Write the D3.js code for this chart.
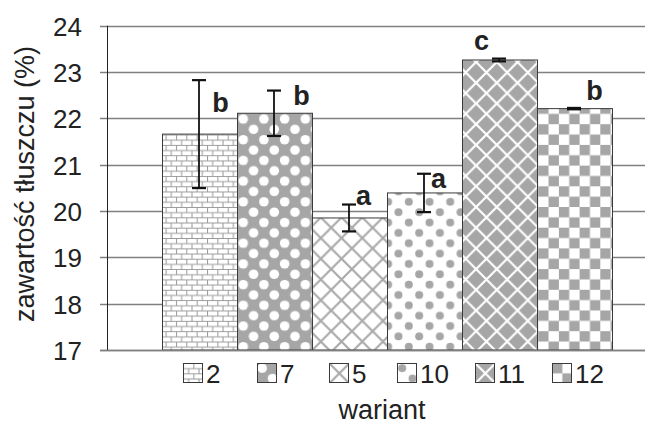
<!DOCTYPE html>
<html>
<head>
<meta charset="utf-8">
<script src="https://cdn.jsdelivr.net/npm/d3@7"></script>
<style>
  html, body { margin: 0; padding: 0; background: #fff; }
  svg { display: block; font-family: Arial, "Liberation Sans", sans-serif; }
</style>
</head>
<body>
<svg id="chart" width="645" height="426"></svg>
<script>
// ---- data ----
const variants = ["2", "7", "5", "10", "11", "12"];
const means    = [21.66, 22.11, 19.85, 20.39, 23.26, 22.21];
const sds      = [1.165, 0.49, 0.29, 0.414, 0.03, 0.015];
const letters  = ["b", "b", "a", "a", "c", "b"];
const yTicks   = [17, 18, 19, 20, 21, 22, 23, 24];
const yTitle   = "zawartość tłuszczu (%)";
const xTitle   = "wariant";

// ---- layout ----
const W = 645, H = 426;
const svg = d3.select("#chart");
const y = d3.scaleLinear().domain([17, 24]).range([350, 25.7]);
const x = d3.scaleBand().domain(variants).range([162, 612]).padding(0);
const GREY = "#a6a6a6", LINE = "#aaaaaa";
const T = 20.7, h = T / 2;

const defs = svg.append("defs");
function pat(id, w, hgt) {
  return defs.append("pattern").attr("id", id).attr("patternUnits", "userSpaceOnUse")
    .attr("width", w).attr("height", hgt);
}
// bricks
{
  const p = pat("p2", h, h);
  p.append("rect").attr("width", h).attr("height", h).attr("fill", "#fff");
  p.append("path").attr("d", `M0,0.5H${h} M0,${h/2+0.5}H${h} M0.5,0V${h/2} M${h/2+0.5},${h/2}V${h}`)
    .attr("stroke", "#999").attr("stroke-width", 1).attr("fill", "none");
}
// white dots on grey
{
  const p = pat("p7", T, T);
  p.append("rect").attr("width", T).attr("height", T).attr("fill", GREY);
  [[h/2, h/2], [h/2 + h, h/2 + h]].forEach(([cx, cy]) =>
    p.append("circle").attr("cx", cx).attr("cy", cy).attr("r", 4.8).attr("fill", "#fff"));
}
function crossPath() {
  let d = "";
  [-1, 0, 1].forEach(k => { d += `M-2,${-2 + k*T} L${T+2},${T+2 + k*T} `; });
  [0, 1, 2].forEach(k => { d += `M-2,${k*T + 2} L${T+2},${k*T - T - 2} `; });
  return d;
}
// grey cross on white
{
  const p = pat("p5", T, T);
  p.append("rect").attr("width", T).attr("height", T).attr("fill", "#fff");
  p.append("path").attr("d", crossPath()).attr("stroke", LINE).attr("stroke-width", 2.2).attr("fill", "none");
}
// grey dots on white
{
  const p = pat("p10", T, T);
  p.append("rect").attr("width", T).attr("height", T).attr("fill", "#fff");
  [[h/2, h/2], [h/2 + h, h/2 + h]].forEach(([cx, cy]) =>
    p.append("circle").attr("cx", cx).attr("cy", cy).attr("r", 4.0).attr("fill", GREY));
}
// white cross on grey
{
  const p = pat("p11", T, T);
  p.append("rect").attr("width", T).attr("height", T).attr("fill", GREY);
  p.append("path").attr("d", crossPath()).attr("stroke", "#fff").attr("stroke-width", 2.2).attr("fill", "none");
}
// checker
{
  const p = pat("p12", T, T);
  p.append("rect").attr("width", T).attr("height", T).attr("fill", "#fff");
  p.append("rect").attr("width", h).attr("height", h).attr("fill", GREY);
  p.append("rect").attr("x", h).attr("y", h).attr("width", h).attr("height", h).attr("fill", GREY);
}
const fillOf = v => `url(#p${v})`;

// gridlines
svg.append("g").selectAll("line").data(yTicks).join("line")
  .attr("x1", 100).attr("x2", W)
  .attr("y1", d => Math.round(y(d)) + 0.5).attr("y2", d => Math.round(y(d)) + 0.5)
  .attr("stroke", "#808080").attr("stroke-width", 1.3);

// y tick labels via axis
const yAxis = svg.append("g").attr("transform", "translate(107,0)")
  .call(d3.axisLeft(y).tickValues(yTicks).tickSize(0).tickPadding(25).tickFormat(d3.format("d")));
yAxis.select(".domain").remove();
yAxis.selectAll("text").attr("font-size", 26).attr("fill", "#222")
  .attr("font-family", "Arial, 'Liberation Sans', sans-serif").attr("dy", "0.36em");

// y axis line
svg.append("line").attr("x1", 107.5).attr("x2", 107.5).attr("y1", y(24)).attr("y2", y(17))
  .attr("stroke", "#222").attr("stroke-width", 1);

// bars
svg.append("g").selectAll("rect").data(variants).join("rect")
  .attr("x", d => x(d) + 0.5)
  .attr("y", (d, i) => y(means[i]))
  .attr("width", x.bandwidth())
  .attr("height", (d, i) => y(17) - y(means[i]))
  .attr("fill", d => fillOf(d))
  .attr("stroke", "#3a3a3a").attr("stroke-width", 1);

// x axis baseline
svg.append("line").attr("x1", 100).attr("x2", W).attr("y1", y(17) + 0.5).attr("y2", y(17) + 0.5)
  .attr("stroke", "#808080").attr("stroke-width", 1.5);

// error bars
const eb = svg.append("g").attr("stroke", "#111").attr("stroke-width", 1.8);
variants.forEach((v, i) => {
  const cx = x(v) + x.bandwidth() / 2 - 0.5;
  const t = y(means[i] + sds[i]), b = y(means[i] - sds[i]);
  eb.append("line").attr("x1", cx).attr("x2", cx).attr("y1", t).attr("y2", b);
  eb.append("line").attr("x1", cx - 7).attr("x2", cx + 7).attr("y1", t).attr("y2", t).attr("stroke-width", 2.2);
  eb.append("line").attr("x1", cx - 7).attr("x2", cx + 7).attr("y1", b).attr("y2", b).attr("stroke-width", 2.2);
});

// significance letters (hand-placed offsets, as in the original)
const letterDX = [21, 27, 14, 14, -18, 20];
const letterDY = [-22, -8, -13, -5, -10, -9];
svg.append("g").selectAll("text").data(letters).join("text")
  .attr("x", (d, i) => x(variants[i]) + x.bandwidth() / 2 + letterDX[i])
  .attr("y", (d, i) => y(means[i]) + letterDY[i])
  .attr("text-anchor", "middle").attr("font-weight", "bold").attr("font-size", 27)
  .attr("fill", "#222").text(d => d);

// legend
const legendX = [183, 257, 329, 397, 475, 552];
const lg = svg.append("g");
variants.forEach((v, i) => {
  const g = lg.append("g").attr("transform", `translate(${legendX[i]},363)`);
  g.append("rect").attr("x", 0.5).attr("y", 0.5).attr("width", 19).attr("height", 19)
    .attr("fill", fillOf(v)).attr("stroke", "#3a3a3a").attr("stroke-width", 1);
  g.append("text").attr("x", 23).attr("y", 19.5).attr("font-size", 26).attr("fill", "#222").text(v);
});

// axis titles
svg.append("text").attr("x", 382).attr("y", 419).attr("text-anchor", "middle")
  .attr("font-size", 27).attr("fill", "#222").text(xTitle);
svg.append("text").attr("transform", "translate(34,184) rotate(-90)").attr("text-anchor", "middle")
  .attr("font-size", 27).attr("fill", "#222").text(yTitle);
</script>
</body>
</html>
